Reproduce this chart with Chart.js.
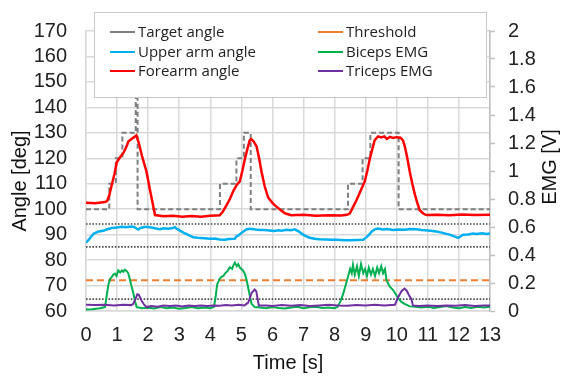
<!DOCTYPE html>
<html><head><meta charset="utf-8">
<style>html,body{margin:0;padding:0;background:#fff}</style>
<script src="https://cdn.jsdelivr.net/npm/chart.js@4/dist/chart.umd.min.js"></script>
</head><body>
<canvas id="c" width="561" height="378"></canvas>
<script>
// ---------- data ----------
const timeRange = [0, 13];
const xTicksStep = 1;
const angleRange = [60, 170];
const emgRange = [0, 2];

const targetT = [0,0.75,0.75,0.96,0.96,1.17,1.17,1.6,1.6,1.66,1.66,4.31,4.31,4.84,4.84,5.08,5.08,5.3,5.3,8.43,8.43,8.9,8.9,9.15,9.15,10.06,10.06,13];
const targetA = [100,100,110,110,120,120,130,130,175,175,100,100,110,110,120,120,130,130,100,100,110,110,120,120,130,130,100,100];

const forearmT = [0,0.3,0.6,0.68,0.75,0.83,0.92,0.99,1.1,1.2,1.3,1.36,1.45,1.55,1.62,1.7,1.8,1.95,2.05,2.15,2.22,2.5,2.8,3.1,3.4,3.7,4.0,4.3,4.4,4.52,4.63,4.74,4.85,4.95,5.03,5.11,5.2,5.27,5.32,5.4,5.49,5.57,5.65,5.75,5.86,6.0,6.08,6.25,6.4,6.6,7.0,7.4,7.8,8.2,8.4,8.49,8.6,8.7,8.83,8.97,9.05,9.13,9.22,9.29,9.4,9.5,9.6,9.68,9.78,9.88,10.0,10.12,10.2,10.26,10.34,10.42,10.5,10.58,10.66,10.74,10.85,10.95,11.3,11.7,12.1,12.5,13];
const forearmA = [102.5,102.3,102.8,103.2,105.5,109.6,114,118.4,120.5,122,124.5,126.5,127.5,128.3,129,126,121,114.6,108,102,97.7,97.2,97.4,97,97.3,97,97.4,97.6,99,101.5,104,107.1,109.5,110.9,115,119.6,124,127.1,127.5,126.5,124.6,120,114.6,109,104.6,102.5,101.5,99.8,98.4,97.6,97.8,97.4,97.6,97.5,97.8,98.4,101,103.4,107,110.9,115,119.6,124,127.1,128.6,128.2,128.6,127.6,128.4,128,128.3,128.1,127,124.6,120,114.6,110,105.9,102.5,99.6,98.3,97.7,97.8,97.6,97.9,97.7,97.8];

const upperT = [0,0.1,0.24,0.4,0.56,0.7,0.85,0.99,1.15,1.3,1.45,1.55,1.62,1.68,1.75,1.85,1.95,2.1,2.25,2.38,2.5,2.65,2.8,2.86,2.92,3.05,3.15,3.24,3.35,3.45,3.6,3.8,4.0,4.15,4.3,4.47,4.6,4.79,4.84,4.9,5.0,5.1,5.17,5.3,5.45,5.6,5.75,5.9,6.05,6.2,6.29,6.45,6.6,6.72,6.85,6.95,7.04,7.2,7.36,7.5,7.7,7.9,8.1,8.3,8.5,8.7,8.92,9.05,9.13,9.2,9.29,9.4,9.55,9.7,9.88,10.05,10.25,10.45,10.63,10.8,11.0,11.15,11.27,11.45,11.6,11.7,11.85,11.97,12.05,12.13,12.3,12.45,12.56,12.75,12.9,13];
const upperA = [86.8,88.2,90.3,91.2,91.5,92.2,92.6,92.8,93.1,92.9,93.2,93,92.4,92.0,92.6,92.9,93.1,92.8,92.4,92.1,92.5,92.3,92.6,93.0,92.3,91.4,90.7,90.2,89.5,89.0,88.8,88.6,88.4,88.5,88.1,88.0,88.3,88.4,89.3,89.7,90.6,91.5,92.1,92.3,92.0,91.8,91.8,91.6,91.4,91.7,91.5,91.9,91.7,92.1,91.2,90.3,89.6,88.8,88.4,88.2,88.1,88.0,88.0,87.8,87.8,87.9,88.0,89.2,90.3,91.3,92.1,92.4,92.0,92.2,91.8,92.0,91.9,92.2,92.1,91.8,91.6,91.4,91.2,90.8,90.3,90.0,89.3,88.7,89.3,90.0,90.1,90.4,90.3,90.5,90.3,90.5];

const bicepsT = [0,0.2,0.45,0.61,0.66,0.72,0.78,0.83,0.88,0.93,0.98,1.04,1.1,1.15,1.2,1.25,1.31,1.36,1.39,1.45,1.52,1.58,1.63,1.8,2.0,2.2,2.4,2.6,2.8,3.0,3.2,3.4,3.6,3.8,4.0,4.12,4.17,4.22,4.3,4.36,4.42,4.47,4.55,4.63,4.7,4.75,4.79,4.85,4.9,4.95,5.0,5.05,5.11,5.17,5.22,5.28,5.33,5.43,5.6,5.8,6.0,6.2,6.4,6.6,6.8,7.0,7.2,7.4,7.6,7.8,8.0,8.1,8.19,8.27,8.35,8.43,8.5,8.55,8.59,8.65,8.72,8.78,8.85,8.92,8.98,9.04,9.1,9.17,9.23,9.3,9.37,9.43,9.5,9.56,9.62,9.67,9.77,9.88,9.94,10.05,10.15,10.25,10.42,10.6,10.8,11.0,11.2,11.4,11.6,11.8,12.0,12.2,12.4,12.6,12.8,13];
const bicepsV = [0.01,0.012,0.02,0.028,0.1,0.187,0.23,0.244,0.26,0.267,0.25,0.29,0.275,0.29,0.28,0.295,0.285,0.27,0.244,0.19,0.13,0.07,0.028,0.02,0.023,0.018,0.028,0.02,0.025,0.017,0.022,0.028,0.02,0.025,0.02,0.03,0.1,0.19,0.23,0.244,0.25,0.267,0.285,0.312,0.3,0.33,0.346,0.32,0.335,0.31,0.30,0.29,0.267,0.22,0.164,0.1,0.051,0.028,0.025,0.02,0.028,0.022,0.018,0.025,0.03,0.02,0.026,0.03,0.022,0.025,0.02,0.03,0.07,0.119,0.18,0.244,0.3,0.27,0.33,0.26,0.32,0.25,0.335,0.27,0.3,0.25,0.31,0.26,0.3,0.25,0.31,0.27,0.32,0.27,0.3,0.22,0.176,0.15,0.13,0.09,0.065,0.051,0.033,0.03,0.025,0.03,0.022,0.028,0.035,0.025,0.02,0.028,0.022,0.03,0.025,0.03];

const tricepsT = [0,0.3,0.6,0.9,1.2,1.45,1.52,1.6,1.65,1.7,1.79,1.87,1.95,2.1,2.3,2.5,2.7,2.9,3.1,3.3,3.5,3.7,3.9,4.1,4.3,4.5,4.7,4.9,5.1,5.22,5.3,5.33,5.43,5.48,5.52,5.56,5.8,6.0,6.3,6.6,6.9,7.2,7.5,7.8,8.1,8.4,8.7,9.0,9.3,9.6,9.94,10.04,10.15,10.25,10.32,10.4,10.47,10.52,10.7,11.0,11.3,11.6,11.9,12.2,12.5,12.8,13];
const tricepsV = [0.045,0.042,0.045,0.04,0.045,0.042,0.05,0.09,0.119,0.115,0.073,0.045,0.028,0.035,0.03,0.04,0.035,0.04,0.032,0.04,0.035,0.04,0.036,0.04,0.038,0.042,0.04,0.045,0.04,0.06,0.11,0.13,0.153,0.14,0.09,0.04,0.04,0.036,0.042,0.038,0.042,0.036,0.04,0.045,0.04,0.038,0.042,0.04,0.045,0.04,0.045,0.096,0.141,0.16,0.145,0.11,0.085,0.04,0.035,0.04,0.035,0.04,0.038,0.042,0.036,0.04,0.04];

const thresholdEMG = 0.22;
const emgBaselineLimit = 0.085;
const upperArmLimits = [94.2, 85.2];

const legendLabels = ['Target angle','Upper arm angle','Forearm angle','Threshold','Biceps EMG','Triceps EMG'];
const axisTitles = {x:'Time [s]', left:'Angle [deg]', right:'EMG [V]'};

// ---------- colors / styles ----------
const COL = {target:'#7f7f7f', upper:'#00b0f0', fore:'#ff0000', thr:'#ed7d31', bic:'#00b050', tri:'#7030a0', dot:'#4d4d4d', grid:'#d9d9d9'};
const FONT = "'Liberation Sans', Arial, sans-serif";

const xy = (ts, vs) => ts.map((t,i)=>({x:t, y:vs[i]}));
const hline = v => [{x:timeRange[0], y:v},{x:timeRange[1], y:v}];

const datasets = [
  {label:legendLabels[2], data:xy(forearmT, forearmA), borderColor:COL.fore, borderWidth:2.5, yAxisID:'y', order:1},
  {label:legendLabels[0], data:xy(targetT, targetA), borderColor:COL.target, borderWidth:2, borderDash:[5,3], yAxisID:'y', order:2},
  {label:legendLabels[1], data:xy(upperT, upperA), borderColor:COL.upper, borderWidth:2.5, yAxisID:'y', order:3},
  {label:legendLabels[5], data:xy(tricepsT, tricepsV), borderColor:COL.tri, borderWidth:2, yAxisID:'y2', order:4},
  {label:legendLabels[4], data:xy(bicepsT, bicepsV), borderColor:COL.bic, borderWidth:2, yAxisID:'y2', order:5},
  {label:legendLabels[3], data:hline(thresholdEMG), borderColor:COL.thr, borderWidth:2, borderDash:[7,4], yAxisID:'y2', order:6},
  {label:'limit', data:hline(emgBaselineLimit), borderColor:COL.dot, borderWidth:1.6, borderDash:[1.6,1.6], yAxisID:'y2', order:7},
  {label:'limit', data:hline(upperArmLimits[0]), borderColor:COL.dot, borderWidth:1.6, borderDash:[1.6,1.6], yAxisID:'y', order:7},
  {label:'limit', data:hline(upperArmLimits[1]), borderColor:COL.dot, borderWidth:1.6, borderDash:[1.6,1.6], yAxisID:'y', order:7},
];
datasets.forEach(d=>{d.pointRadius=0; d.tension=0; d.fill=false; d.borderCapStyle='butt';});

const boxLegend = {
  id:'boxLegend',
  afterDatasetsDraw(chart){
    const c = chart.ctx;
    c.save();
    c.fillStyle = '#fff';
    c.fillRect(94, 12, 392, 85);
    c.strokeStyle = '#c8c8c8';
    c.lineWidth = 1;
    c.strokeRect(94.5, 12.5, 392, 85);
    const items = [
      [legendLabels[0], COL.target, 110, 32],
      [legendLabels[1], COL.upper, 110, 52],
      [legendLabels[2], COL.fore, 110, 71],
      [legendLabels[3], COL.thr, 318, 32],
      [legendLabels[4], COL.bic, 318, 52],
      [legendLabels[5], COL.tri, 318, 71],
    ];
    c.font = "15px 'Open Sans', sans-serif";
    c.textBaseline = 'middle';
    c.textAlign = 'left';
    items.forEach(([t,col,x,y])=>{
      c.strokeStyle = col; c.lineWidth = 2;
      c.beginPath(); c.moveTo(x, y); c.lineTo(x+25, y); c.stroke();
      c.fillStyle = '#222';
      c.fillText(t, x+28, y+1);
    });
    c.restore();
  },
  afterDraw(chart){
    const c = chart.ctx, a = chart.chartArea;
    c.save();
    c.fillStyle = '#111';
    c.font = "20px " + FONT;
    c.textAlign = 'center'; c.textBaseline = 'middle';
    c.fillText(axisTitles.x, (a.left+a.right)/2, 363);
    c.save(); c.translate(20, 181); c.rotate(-Math.PI/2); c.fillText(axisTitles.left, 0, 0); c.restore();
    c.save(); c.translate(550, 167); c.rotate(-Math.PI/2); c.fillText(axisTitles.right, 0, 0); c.restore();
    c.restore();
  }
};

const tickFont = {family:FONT, size:20};
new Chart(document.getElementById('c'), {
  type:'line',
  data:{datasets},
  plugins:[boxLegend],
  options:{
    responsive:false, animation:false, devicePixelRatio:1,
    layout:{padding:{top:17, left:0, right:0, bottom:0}},
    plugins:{legend:{display:false}, tooltip:{enabled:false}},
    scales:{
      x:{type:'linear', min:timeRange[0], max:timeRange[1],
         ticks:{stepSize:xTicksStep, font:tickFont, color:'#222', padding:12, maxRotation:0, autoSkip:false},
         grid:{color:COL.grid, lineWidth:1.5, drawTicks:false},
         border:{display:true, color:COL.grid, width:1.5},
         afterFit:s=>{s.height=67;}},
      y:{position:'left', min:angleRange[0], max:angleRange[1],
         ticks:{stepSize:10, font:tickFont, color:'#222', padding:19, autoSkip:false},
         grid:{color:COL.grid, lineWidth:1.5, drawTicks:false},
         border:{display:true, color:COL.grid, width:1.5},
         afterFit:s=>{s.width=86;}},
      y2:{position:'right', min:emgRange[0], max:emgRange[1],
         ticks:{stepSize:0.2, font:tickFont, color:'#222', padding:13, autoSkip:false, callback:v=>String(Math.round(v*10)/10)},
         grid:{drawOnChartArea:false, drawTicks:true, tickLength:5, tickColor:'#bfbfbf', tickWidth:1.5},
         border:{display:true, color:'#bfbfbf', width:1.5},
         afterFit:s=>{s.width=71;}}
    }
  }
});
</script>
</body></html>
